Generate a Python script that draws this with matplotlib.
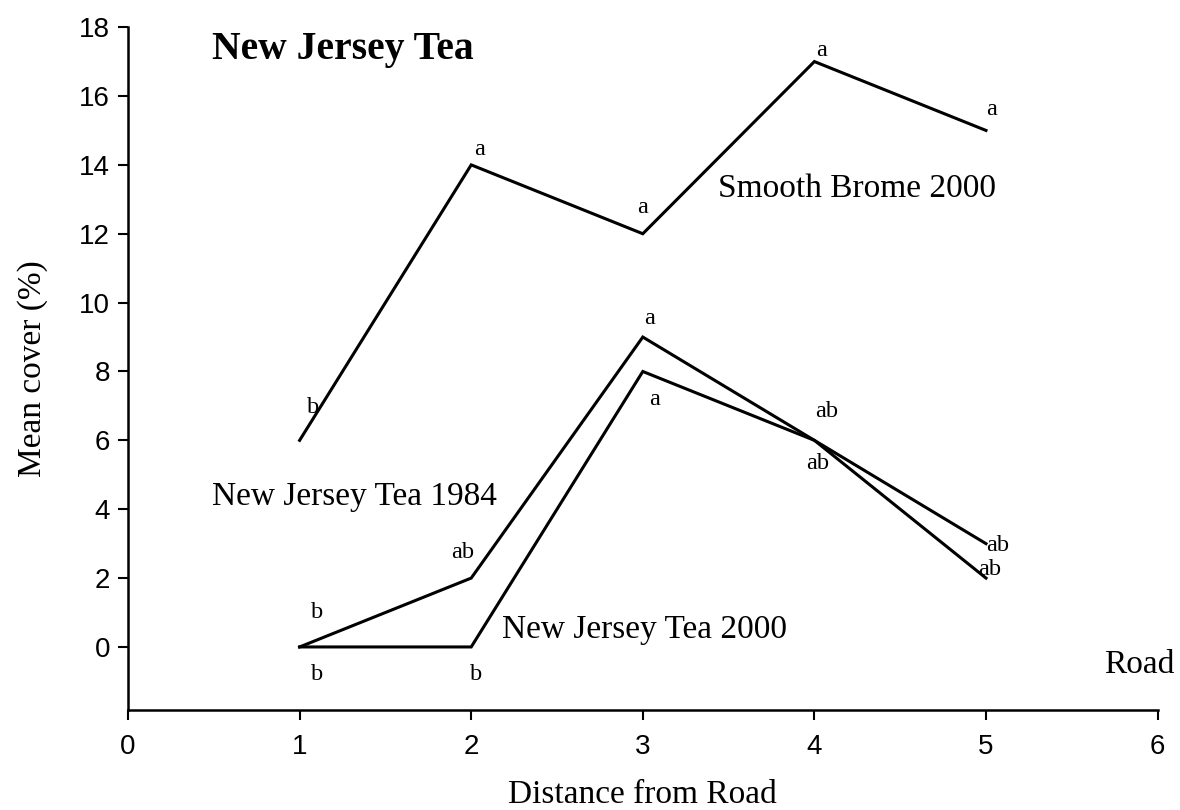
import matplotlib
matplotlib.use("Agg")
import matplotlib.pyplot as plt

distance = [1, 2, 3, 4, 5]
brome_2000 = [6, 14, 12, 17, 15]
njt_1984 = [0, 2, 9, 6, 3]
njt_2000 = [0, 0, 8, 6, 2]

# significance letters: (x, y, text)
letters = [
    (1.08, 6.95, "b"), (2.05, 14.45, "a"), (3.0, 12.75, "a"), (4.04, 17.33, "a"), (5.03, 15.6, "a"),
    (3.04, 9.55, "a"), (3.07, 7.2, "a"), (4.07, 6.85, "ab"), (4.02, 5.33, "ab"),
    (5.07, 2.95, "ab"), (5.02, 2.25, "ab"),
    (1.95, 2.73, "ab"), (1.1, 1.0, "b"), (1.1, -0.8, "b"), (2.03, -0.8, "b"),
]

serif = ["Liberation Serif", "DejaVu Serif"]
sans = ["Liberation Sans", "DejaVu Sans"]

fig = plt.figure(figsize=(11.8, 8.1), dpi=100)
ax = fig.add_axes([0.1085, 0.1235, 0.8725, 0.843])

for series in (brome_2000, njt_1984, njt_2000):
    ax.plot(distance, series, color="black", lw=2.2, solid_joinstyle="miter")

ax.set_xlim(0, 6)
ax.set_ylim(-1.83, 18)
ax.set_xticks(range(0, 7))
ax.set_yticks(range(0, 19, 2))
for lab in ax.get_xticklabels() + ax.get_yticklabels():
    lab.set_family(sans)
    lab.set_fontsize(20)
ax.tick_params(direction="out", length=7, width=1.5, colors="black")
ax.tick_params(axis="y", pad=6)
ax.tick_params(axis="x", pad=10)
ax.spines["top"].set_visible(False)
ax.spines["right"].set_visible(False)
ax.spines["left"].set_linewidth(1.8)
ax.spines["bottom"].set_linewidth(1.8)

ax.set_xlabel("Distance from Road", family=serif, fontsize=24, labelpad=14)
ax.set_ylabel("Mean cover (%)", family=serif, fontsize=24, labelpad=22)

for x, y, t in letters:
    ax.text(x, y, t, family=serif, fontsize=17.5, ha="center", va="center")

ax.text(0.49, 17.35, "New Jersey Tea", family=serif, fontsize=28.5, fontweight="bold", ha="left", va="center")
ax.text(3.44, 13.3, "Smooth Brome 2000", family=serif, fontsize=24, ha="left", va="center")
ax.text(0.49, 4.36, "New Jersey Tea 1984", family=serif, fontsize=24, ha="left", va="center")
ax.text(2.18, 0.5, "New Jersey Tea 2000", family=serif, fontsize=24, ha="left", va="center")
ax.text(6.1, -0.52, "Road", family=serif, fontsize=24, ha="right", va="center", clip_on=False)

fig.savefig("out.png", dpi=100)
